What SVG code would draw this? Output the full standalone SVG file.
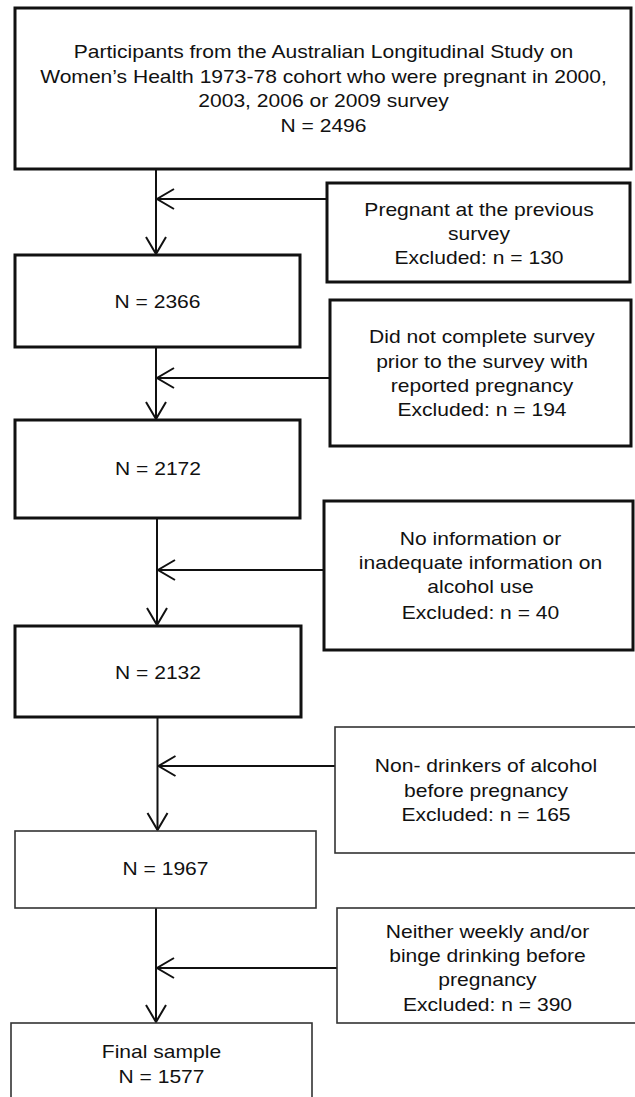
<svg xmlns="http://www.w3.org/2000/svg" width="635" height="1097" viewBox="0 0 635 1097">
<style>
.thick{fill:#fff;stroke:#111;stroke-width:3}
.thin{fill:#fff;stroke:#333;stroke-width:1.6}
.t{font-family:"Liberation Sans",Arial,sans-serif;font-size:18px;fill:#111;text-anchor:middle}
.c{fill:none;stroke:#111;stroke-width:2}
</style>
<defs>
<marker id="ah" markerUnits="userSpaceOnUse" viewBox="-20 -12 22 24" refX="0" refY="0" markerWidth="22" markerHeight="24" orient="auto">
<path d="M-17,-10 L0,0 L-17,10" fill="none" stroke="#111" stroke-width="2"/>
</marker>
</defs>
<rect width="635" height="1097" fill="#fff"/>
<g id="connectors">
<line class="c" x1="156" y1="169" x2="156" y2="254" marker-end="url(#ah)"/>
<line class="c" x1="327" y1="199" x2="157" y2="199" marker-end="url(#ah)"/>
<line class="c" x1="156" y1="347" x2="156" y2="419" marker-end="url(#ah)"/>
<line class="c" x1="330" y1="378" x2="157" y2="378" marker-end="url(#ah)"/>
<line class="c" x1="157" y1="518" x2="157" y2="625" marker-end="url(#ah)"/>
<line class="c" x1="324" y1="570" x2="158" y2="570" marker-end="url(#ah)"/>
<line class="c" x1="157.5" y1="717" x2="157.5" y2="830" marker-end="url(#ah)"/>
<line class="c" x1="335" y1="766" x2="158.5" y2="766" marker-end="url(#ah)"/>
<line class="c" x1="156" y1="908" x2="156" y2="1022" marker-end="url(#ah)"/>
<line class="c" x1="337" y1="968" x2="157" y2="968" marker-end="url(#ah)"/>
</g>
<g id="n0">
<rect class="thick" x="15" y="8" width="616" height="161"/>
<g transform="translate(323.5 0) scale(1.17 1)">
<text class="t" x="0" y="58.5">Participants from the Australian Longitudinal Study on</text>
<text class="t" x="0" y="83">Women’s Health 1973-78 cohort who were pregnant in 2000,</text>
<text class="t" x="0" y="107.5">2003, 2006 or 2009 survey</text>
<text class="t" x="0" y="132">N = 2496</text>
</g>
</g>
<g id="e1">
<rect class="thick" x="327" y="183" width="303" height="99"/>
<g transform="translate(479 0) scale(1.17 1)">
<text class="t" x="0" y="216.5">Pregnant at the previous</text>
<text class="t" x="0" y="240">survey</text>
<text class="t" x="0" y="264">Excluded: n = 130</text>
</g>
</g>
<g id="n1">
<rect class="thick" x="15" y="255" width="285" height="92"/>
<g transform="translate(157.5 0) scale(1.17 1)">
<text class="t" x="0" y="308">N = 2366</text>
</g>
</g>
<g id="e2">
<rect class="thick" x="330" y="300" width="301" height="146"/>
<g transform="translate(482 0) scale(1.17 1)">
<text class="t" x="0" y="343.5">Did not complete survey</text>
<text class="t" x="0" y="368">prior to the survey with</text>
<text class="t" x="0" y="392">reported pregnancy</text>
<text class="t" x="0" y="416.5">Excluded: n = 194</text>
</g>
</g>
<g id="n2">
<rect class="thick" x="15" y="420" width="285" height="98"/>
<g transform="translate(158 0) scale(1.17 1)">
<text class="t" x="0" y="475.5">N = 2172</text>
</g>
</g>
<g id="e3">
<rect class="thick" x="324" y="501" width="309" height="149"/>
<g transform="translate(480.5 0) scale(1.17 1)">
<text class="t" x="0" y="545.5">No information or</text>
<text class="t" x="0" y="569.5">inadequate information on</text>
<text class="t" x="0" y="593.5">alcohol use</text>
<text class="t" x="0" y="619">Excluded: n = 40</text>
</g>
</g>
<g id="n3">
<rect class="thick" x="15" y="626" width="286" height="91"/>
<g transform="translate(158 0) scale(1.17 1)">
<text class="t" x="0" y="679.5">N = 2132</text>
</g>
</g>
<g id="e4">
<rect class="thin" x="335" y="727" width="305" height="126"/>
<g transform="translate(486 0) scale(1.17 1)">
<text class="t" x="0" y="772.5">Non- drinkers of alcohol</text>
<text class="t" x="0" y="797">before pregnancy</text>
<text class="t" x="0" y="821.5">Excluded: n = 165</text>
</g>
</g>
<g id="n4">
<rect class="thin" x="15" y="831" width="301" height="77"/>
<g transform="translate(165.5 0) scale(1.17 1)">
<text class="t" x="0" y="875.5">N = 1967</text>
</g>
</g>
<g id="e5">
<rect class="thin" x="337" y="908" width="303" height="115"/>
<g transform="translate(487.5 0) scale(1.17 1)">
<text class="t" x="0" y="938.5">Neither weekly and/or</text>
<text class="t" x="0" y="962">binge drinking before</text>
<text class="t" x="0" y="986.5">pregnancy</text>
<text class="t" x="0" y="1011">Excluded: n = 390</text>
</g>
</g>
<g id="n5">
<rect class="thin" x="11" y="1023" width="301" height="90"/>
<g transform="translate(161.5 0) scale(1.17 1)">
<text class="t" x="0" y="1058.5">Final sample</text>
<text class="t" x="0" y="1083.5">N = 1577</text>
</g>
</g>
</svg>
